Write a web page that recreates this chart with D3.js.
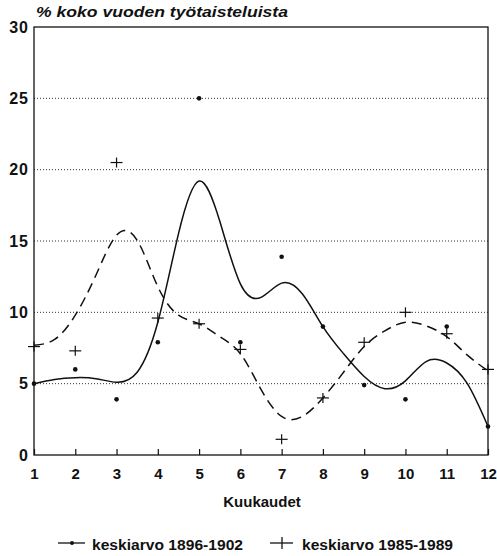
<!DOCTYPE html>
<html>
<head>
<meta charset="utf-8">
<script src="https://cdn.jsdelivr.net/npm/d3@7"></script>
<style>
  html, body { margin: 0; padding: 0; background: #fff; }
  svg { display: block; }
  text { font-family: "Liberation Sans", Arial, sans-serif; font-weight: bold; fill: #111; }
</style>
</head>
<body>
<svg id="chart" width="497" height="556"></svg>
<script>
// ---- data ----
const months = [1, 2, 3, 4, 5, 6, 7, 8, 9, 10, 11, 12];
const avg1896 = [5, 6, 3.9, 7.9, 25, 7.9, 13.9, 9, 4.9, 3.9, 9, 2];
const avg1985 = [7.6, 7.3, 20.5, 9.6, 9.2, 7.4, 1.1, 4.0, 7.9, 10.0, 8.5, 6.0];
// smoothed trend curves (half-month steps)
const trendMonths = [1, 1.5, 2, 2.5, 3, 3.5, 4, 4.5, 5, 5.5, 6, 6.5, 7, 7.5, 8, 8.5, 9, 9.5, 10, 10.5, 11, 11.5, 12];
const trend1896 = [5.0, 5.3, 5.42, 5.35, 5.1, 5.8, 9.3, 15.5, 19.2, 16.4, 12.0, 11.05, 12.05, 11.3, 9.0, 7.1, 5.5, 4.65, 5.2, 6.55, 6.45, 5.0, 2.0];
const trend1985 = [7.7, 8.1, 9.8, 12.6, 15.4, 15.05, 11.8, 9.8, 9.2, 8.3, 7.1, 4.6, 2.7, 2.7, 4.0, 5.8, 7.6, 8.7, 9.3, 9.05, 8.3, 7.0, 5.9];
const yTicks = [0, 5, 10, 15, 20, 25, 30];
const gridValues = [5, 10, 15, 20, 25];
const titleText = "% koko vuoden työtaisteluista";
const xTitle = "Kuukaudet";
const seriesNames = ["keskiarvo 1896-1902", "keskiarvo 1985-1989"];

// ---- layout ----
const svg = d3.select("#chart");
const x = d3.scaleLinear().domain([1, 12]).range([34, 488]);
const y = d3.scaleLinear().domain([0, 30]).range([455, 27]);

// grid (dotted)
svg.append("g").selectAll("line").data(gridValues).join("line")
  .attr("x1", x(1)).attr("x2", x(12))
  .attr("y1", d => y(d)).attr("y2", d => y(d))
  .attr("stroke", "#333").attr("stroke-width", 1)
  .attr("stroke-dasharray", "1,2");

// frame
svg.append("rect")
  .attr("x", x(1)).attr("y", y(30))
  .attr("width", x(12) - x(1)).attr("height", y(0) - y(30))
  .attr("fill", "none").attr("stroke", "#111").attr("stroke-width", 1.3);

// x axis ticks (inward) and labels
const xAxis = d3.axisBottom(x).tickValues(months).tickFormat(d3.format("d")).tickSize(-6).tickPadding(16);
const gx = svg.append("g").attr("transform", `translate(0,${y(0)})`).call(xAxis);
gx.select(".domain").remove();
gx.selectAll(".tick line").attr("stroke", "#111").attr("stroke-width", 1.2);
gx.selectAll(".tick text").style("font-size", "15px").style("font-family", "Liberation Sans, Arial, sans-serif")
  .style("font-weight", "bold").attr("fill", "#111").attr("dy", "0.55em");

// y axis labels
const yAxis = d3.axisLeft(y).tickValues(yTicks).tickFormat(d3.format("d")).tickSize(0).tickPadding(5);
const gy = svg.append("g").attr("transform", `translate(${x(1)},0)`).call(yAxis);
gy.select(".domain").remove();
gy.selectAll(".tick text").style("font-size", "16px").style("font-family", "Liberation Sans, Arial, sans-serif")
  .style("font-weight", "bold").style("letter-spacing", "1px").attr("fill", "#111");

// title
svg.append("text").attr("x", 36).attr("y", 17)
  .attr("textLength", 252).attr("lengthAdjust", "spacingAndGlyphs")
  .style("font-size", "15px").style("font-style", "italic")
  .text(titleText);

// x title
svg.append("text").attr("x", 262).attr("y", 507).attr("text-anchor", "middle")
  .style("font-size", "15px").text(xTitle);

// trend lines
const line = d3.line().x(d => x(d[0])).y(d => y(d[1])).curve(d3.curveNatural);
svg.append("path").datum(trendMonths.map((m, i) => [m, trend1896[i]]))
  .attr("d", line).attr("fill", "none").attr("stroke", "#111").attr("stroke-width", 1.5);
svg.append("path").datum(trendMonths.map((m, i) => [m, trend1985[i]]))
  .attr("d", line).attr("fill", "none").attr("stroke", "#111").attr("stroke-width", 1.5)
  .attr("stroke-dasharray", "10,6");

// points: dots
svg.append("g").selectAll("circle").data(months.map((m, i) => [m, avg1896[i]])).join("circle")
  .attr("cx", d => x(d[0])).attr("cy", d => y(d[1])).attr("r", 2.3).attr("fill", "#111");

// points: crosses
const crossG = svg.append("g").attr("stroke", "#111").attr("stroke-width", 1.2);
months.forEach((m, i) => {
  const cx = x(m), cy = y(avg1985[i]);
  crossG.append("line").attr("x1", cx - 6).attr("x2", cx + 6).attr("y1", cy).attr("y2", cy);
  crossG.append("line").attr("x1", cx).attr("x2", cx).attr("y1", cy - 5).attr("y2", cy + 5);
});

// legend
const lg = svg.append("g");
const ly = 543;
lg.append("line").attr("x1", 58).attr("x2", 85).attr("y1", ly).attr("y2", ly).attr("stroke", "#111").attr("stroke-width", 1.3);
lg.append("circle").attr("cx", 72).attr("cy", ly).attr("r", 2).attr("fill", "#111");
lg.append("text").attr("x", 92).attr("y", 550).attr("textLength", 151).attr("lengthAdjust", "spacingAndGlyphs")
  .style("font-size", "14.5px").text(seriesNames[0]);
lg.append("line").attr("x1", 270).attr("x2", 293).attr("y1", ly).attr("y2", ly).attr("stroke", "#111").attr("stroke-width", 1.3);
lg.append("line").attr("x1", 282).attr("x2", 282).attr("y1", ly - 6).attr("y2", ly + 6).attr("stroke", "#111").attr("stroke-width", 1.3);
lg.append("text").attr("x", 302).attr("y", 550).attr("textLength", 151).attr("lengthAdjust", "spacingAndGlyphs")
  .style("font-size", "14.5px").text(seriesNames[1]);
</script>
</body>
</html>
